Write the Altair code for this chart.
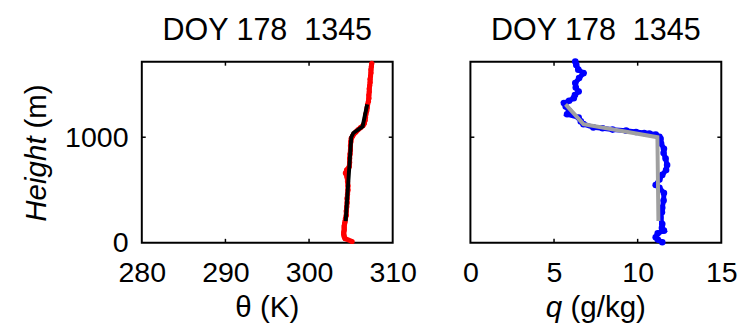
import altair as alt
import pandas as pd

# ---------------- data ----------------
theta_h = [12, 40, 60, 80, 100, 120, 140, 160, 180, 200, 230, 260, 300, 340, 380, 420, 460,
           500, 540, 580, 620, 660, 690, 720, 760, 800, 840, 880, 920, 960, 990, 1010, 1030,
           1050, 1070, 1090, 1110, 1130, 1160, 1190, 1220, 1250, 1280, 1310, 1340, 1370, 1400,
           1430, 1460, 1490, 1520, 1550, 1580, 1610, 1640, 1670, 1700]
theta_v = [305.15, 304.3, 304.2, 304.15, 304.15, 304.2, 304.2, 304.2, 304.25, 304.3, 304.35,
           304.45, 304.45, 304.5, 304.55, 304.55, 304.6, 304.65, 304.65, 304.6, 304.55, 304.35,
           304.5, 304.8, 304.85, 304.85, 304.9, 304.95, 304.95, 305.0, 305.05, 305.2, 305.35,
           305.6, 305.85, 306.15, 306.45, 306.6, 306.7, 306.75, 306.8, 306.9, 306.95, 307.0,
           307.1, 307.15, 307.15, 307.2, 307.2, 307.25, 307.3, 307.3, 307.35, 307.4, 307.4,
           307.45, 307.5]
theta_fit_h = [206, 1000, 1040, 1100, 1311]
theta_fit_v = [304.38, 305.05, 305.3, 306.4, 306.95]

q_h = [5, 30, 52, 90, 115, 140, 177, 237, 290, 332, 400, 472, 520, 548, 600, 643, 690, 736,
       798, 850, 891, 940, 984, 1005, 1025, 1035, 1040, 1050, 1062, 1072, 1085, 1093, 1124,
       1150, 1187, 1218, 1250, 1290, 1323, 1345, 1370, 1400, 1433, 1470, 1514, 1560, 1607,
       1640, 1685, 1717]
q_v = [11.47, 11.2, 11.08, 11.2, 11.57, 11.45, 11.47, 11.37, 11.45, 11.47, 11.55, 11.57,
       11.3, 11.08, 11.3, 11.47, 11.7, 11.76, 11.67, 11.55, 11.57, 11.4, 11.37, 11.3, 11.08,
       10.7, 10.39, 9.9, 9.31, 8.5, 7.9, 7.35, 6.76, 6.6, 6.47, 5.78, 5.9, 5.7, 5.59, 5.9,
       6.18, 6.25, 6.47, 6.3, 6.27, 6.5, 6.76, 6.45, 6.33, 6.27]
q_fit_h = [206, 1000, 1124, 1311]
q_fit_v = [11.24, 11.18, 6.76, 5.69]

title_text = "DOY 178\u00a0 1345"
theta_ticks = [280, 290, 300, 310]
q_ticks = [0, 5, 10, 15]
h_ticks = [0, 1000]
h_domain = [0, 1715]

W, H = 255, 184
FONT = "Liberation Sans"


def text_layer(txt, x, y, align="center", angle=0, italic=False, size=30):
    kw = dict(text=txt, font=FONT, fontSize=size, color="black", align=align,
              baseline="alphabetic")
    if angle:
        kw["angle"] = angle
    if italic:
        kw["fontStyle"] = "italic"
    return alt.Chart(pd.DataFrame({"a": [0]})).mark_text(**kw).encode(
        x=alt.value(x), y=alt.value(y))


def panel(obs_h, obs_v, fit_h, fit_v, xdom, xticks, obs_color, fit_color, dot_size, show_y):
    obs = pd.DataFrame({"h": obs_h, "v": obs_v})
    fit = pd.DataFrame({"h": fit_h, "v": fit_v})
    xaxis = alt.Axis(values=xticks, labelFontSize=29, labelFont=FONT, labelColor="black",
                     labelPadding=16, ticks=False, tickSize=0, domain=False, grid=False,
                     labelFlush=False, format="d", title=None)
    X = alt.X("v:Q", scale=alt.Scale(domain=xdom, nice=False, zero=False), axis=xaxis)
    if show_y:
        yaxis = alt.Axis(values=h_ticks, labelFontSize=29, labelFont=FONT, labelColor="black",
                         labelPadding=14, ticks=False, tickSize=0, domain=False, grid=False,
                         labelFlush=False, format="d", title=None)
    else:
        yaxis = None
    Y = alt.Y("h:Q", scale=alt.Scale(domain=h_domain, nice=False), axis=yaxis)

    line = alt.Chart(obs).mark_line(color=obs_color, strokeWidth=5).encode(
        x=X, y=Y, order="h:Q")
    pts = alt.Chart(obs).mark_circle(color=obs_color, size=dot_size, opacity=1).encode(x=X, y=Y)
    fitl = alt.Chart(fit).mark_line(color=fit_color, strokeWidth=4).encode(
        x=X, y=Y, order="h:Q")

    tk = pd.DataFrame({"v": xticks[1:-1]})
    ttop = alt.Chart(tk).mark_rule(color="black", strokeWidth=1.5).encode(
        x=X, y=alt.value(0), y2=alt.value(4))
    tbot = alt.Chart(tk).mark_rule(color="black", strokeWidth=1.5).encode(
        x=X, y=alt.value(H), y2=alt.value(H - 4))
    hk = pd.DataFrame({"h": [1000]})
    tl = alt.Chart(hk).mark_rule(color="black", strokeWidth=1.5).encode(
        y=Y, x=alt.value(0), x2=alt.value(4))
    tr = alt.Chart(hk).mark_rule(color="black", strokeWidth=1.5).encode(
        y=Y, x=alt.value(W), x2=alt.value(W - 4))

    layers = [line, pts, fitl, ttop, tbot, tl, tr,
              text_layer(title_text, W / 2, -22, size=31)]
    return layers


left_layers = panel(theta_h, theta_v, theta_fit_h, theta_fit_v, [280, 310], theta_ticks,
                    "#ff0000", "#000000", 28, True)
left_layers += [
    text_layer("\u03b8 (K)", W / 2, 259),
    text_layer("Height", -97, 159.7 - 83.8, align="right", angle=270, italic=True),
    text_layer("(m)", -97, 159.7 - 91.8, align="left", angle=270),
]
right_layers = panel(q_h, q_v, q_fit_h, q_fit_v, [0, 15], q_ticks,
                     "#0000ff", "#a0a0a0", 45, False)
right_layers += [
    text_layer("q", 76.7, 259, align="left", italic=True),
    text_layer("(g/kg)", 101.7, 259, align="left"),
]

left = alt.layer(*left_layers).properties(width=W, height=H)
right = alt.layer(*right_layers).properties(width=W, height=H)

chart = alt.hconcat(left, right, spacing=79, bounds="flush").properties(
    padding={"left": 14, "top": 4, "right": 0, "bottom": 2},
    background="white",
).configure_view(stroke="black", strokeWidth=2)

chart.save("out.html", embed_options={"renderer": "svg", "actions": False})
